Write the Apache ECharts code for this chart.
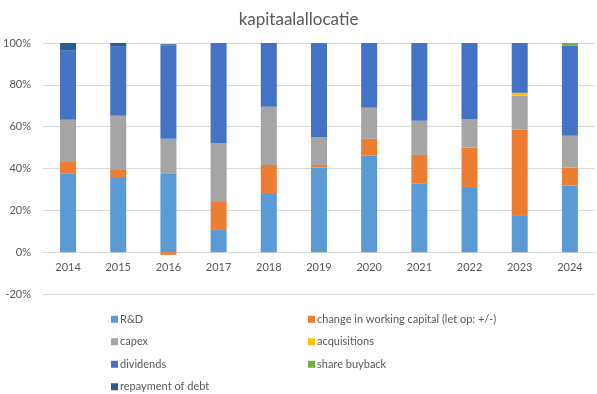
<!DOCTYPE html>
<html>
<head>
<meta charset="utf-8">
<script src="https://cdn.jsdelivr.net/npm/echarts@6/dist/echarts.min.js"></script>
<style>html,body{margin:0;padding:0;background:#fff;}#c{width:597px;height:394px;}</style>
</head>
<body>
<div id="c"></div>
<script>
const years = ['2014','2015','2016','2017','2018','2019','2020','2021','2022','2023','2024'];
const rnd        = [37.7, 35.9, 37.4, 11.0, 28.3, 40.4, 46.2, 32.7, 31.2, 17.7, 31.8];
const workingCap = [5.4, 3.4, -1.3, 13.4, 13.4, 1.3, 8.0, 13.8, 18.8, 40.9, 8.6];
const capex      = [20.2, 25.9, 16.8, 27.8, 27.8, 13.4, 14.8, 16.3, 13.7, 16.2, 15.2];
const acquisitions = [0, 0, 0, 0, 0, 0, 0, 0, 0, 1.4, 0];
const dividends  = [33.2, 33.2, 44.7, 47.8, 30.5, 44.9, 31.0, 37.2, 36.3, 23.8, 43.1];
const buyback    = [0, 0, 0, 0, 0, 0, 0, 0, 0, 0, 1.3];
const repayment  = [3.5, 1.6, 0.5, 0, 0, 0, 0, 0, 0, 0, 0];
const yTicks = {min: -20, max: 100, interval: 20};

const names = ['R&D','change in working capital (let op: +/-)','capex','acquisitions','dividends','share buyback','repayment of debt'];
const datas = [rnd, workingCap, capex, acquisitions, dividends, buyback, repayment];
const colors = ['#5B9BD5','#ED7D31','#A5A5A5','#FFC000','#4472C4','#70AD47','#255E91'];

const font = 'Lato, "Open Sans", sans-serif';
const gridTop = 43, gridBottom = 100, H = 394;
const plotH = H - gridTop - gridBottom;
const zeroOffset = plotH * (0 - yTicks.min) / (yTicks.max - yTicks.min);

const chart = echarts.init(document.getElementById('c'));
const legendCommon = {
  orient: 'vertical', top: 312, height: 120, padding: 0,
  itemWidth: 7, itemHeight: 7, itemGap: 8, icon: 'rect',
  textStyle: {color: '#595959', fontSize: 11, fontFamily: font, lineHeight: 14.5, padding: [0, 0, 0, -3]}
};
chart.setOption({
  animation: false,
  color: colors,
  title: {text: 'kapitaalallocatie', left: 'center', top: 6,
    textStyle: {color: '#595959', fontSize: 17, fontWeight: 'normal', fontFamily: font}},
  legend: [
    Object.assign({}, legendCommon, {left: 111, data: [names[0], names[2], names[4], names[6]]}),
    Object.assign({}, legendCommon, {left: 308, data: [names[1], names[3], names[5]]})
  ],
  grid: {left: 40, right: 2, top: gridTop, bottom: gridBottom, containLabel: false},
  xAxis: {
    type: 'category', data: years,
    axisLine: {onZero: false, lineStyle: {color: '#d9d9d9'}},
    offset: -zeroOffset,
    axisTick: {show: false},
    axisLabel: {color: '#595959', fontSize: 11, fontFamily: font, margin: 10}
  },
  yAxis: {
    type: 'value', min: yTicks.min, max: yTicks.max, interval: yTicks.interval,
    axisLine: {show: false}, axisTick: {show: false},
    splitLine: {lineStyle: {color: '#d9d9d9'}},
    axisLabel: {color: '#595959', fontSize: 11, fontFamily: font, margin: 12, formatter: '{value}%'}
  },
  series: names.map((n, i) => ({
    name: n, type: 'bar', stack: 'total', barWidth: 16, data: datas[i],
    itemStyle: {color: colors[i]}
  }))
});
</script>
</body>
</html>
